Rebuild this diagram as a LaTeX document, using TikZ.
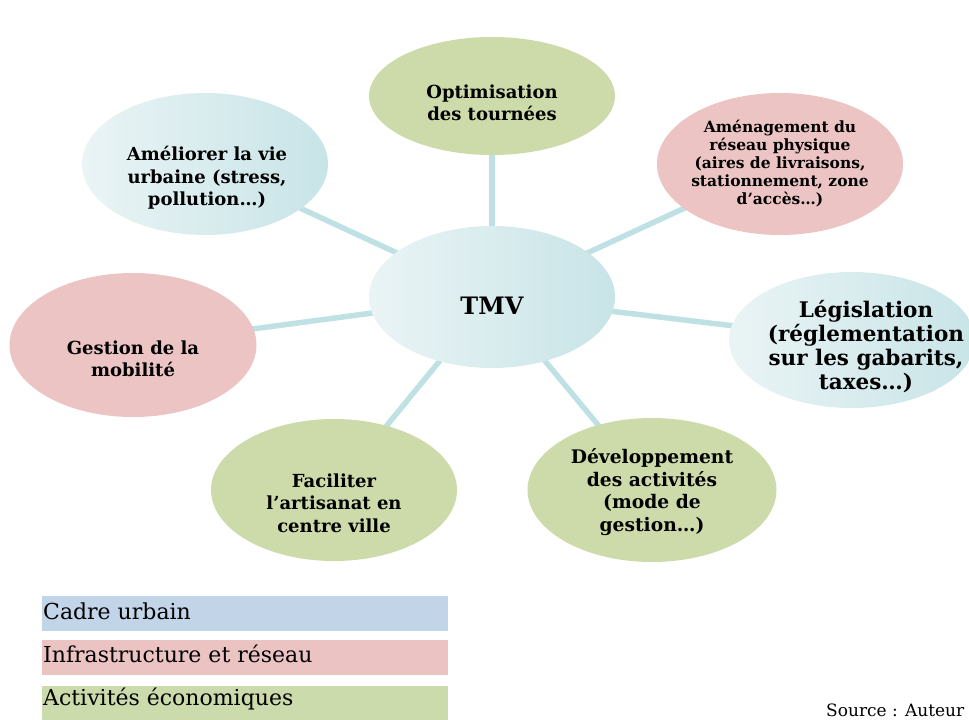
\documentclass[tikz,border=0pt]{standalone}
\usepackage{fontspec}
\setmainfont{DejaVu Serif}
\usetikzlibrary{shapes.geometric}
\definecolor{cgreen}{HTML}{CDDBAB}
\definecolor{cpink}{HTML}{EBC4C3}
\definecolor{cblueL}{HTML}{EAF4F5}
\definecolor{cblueR}{HTML}{C8E4E7}
\definecolor{cline}{HTML}{BFE1E4}
\definecolor{legblue}{HTML}{C2D4E8}
\definecolor{legpink}{HTML}{EBC3C3}
\definecolor{leggreen}{HTML}{CCDBAB}
\tikzset{
  blob/.style={ellipse, draw=none, inner sep=0pt, minimum width=246pt, minimum height=142pt},
  gblob/.style={blob, fill=cgreen},
  pblob/.style={blob, fill=cpink},
  bblob/.style={blob, left color=cblueL, right color=cblueR},
  lbl/.style={align=center, font=\fontsize{18}{22.5}\selectfont\bfseries, inner sep=0pt},
  link/.style={draw=cline, line width=5.5pt},
  legbox/.style={inner sep=0pt},
  legtxt/.style={anchor=base west, inner sep=0pt, font=\fontsize{22}{26}\selectfont}
}
\begin{document}
\begin{tikzpicture}[x=1pt, y=-1pt]
\useasboundingbox (0,0) rectangle (969,720);
% ellipse centres
\coordinate (cT) at (492,297);
\coordinate (cO) at (492,96);
\coordinate (cA) at (780,164);
\coordinate (cL) at (852,340);
\coordinate (cD) at (652,490);
\coordinate (cF) at (334,490);
\coordinate (cG) at (133,345);
\coordinate (cU) at (205,164);
% connectors (behind)
\draw[link] (cT) -- (cO);
\draw[link] (cT) -- (cA);
\draw[link] (cT) -- (cL);
\draw[link] (cT) -- (cD);
\draw[link] (cT) -- (cF);
\draw[link] (cT) -- (cG);
\draw[link] (cT) -- (cU);
% ellipses
\node[bblob] (T) at (cT) {};
\node[gblob, minimum height=118pt] (O) at (cO) {};
\node[pblob] (A) at (cA) {};
\node[bblob, minimum height=136pt] (L) at (cL) {};
\node[gblob, minimum width=249pt, minimum height=144pt] (D) at (cD) {};
\node[gblob] (F) at (cF) {};
\node[pblob, minimum width=247pt, minimum height=144pt] (G) at (cG) {};
\node[bblob] (U) at (cU) {};
% texts
\node[lbl, font=\fontsize{24}{28}\selectfont\bfseries] (tT) at (492,306) {TMV};
\node[lbl] (tO) at (492,103) {Optimisation\\des tournées};
\node[lbl, font=\fontsize{15.5}{18}\selectfont\bfseries] (tA) at (780,164) {Aménagement du\\réseau physique\\(aires de livraisons,\\stationnement, zone\\d’accès…)};
\node[lbl, font=\fontsize{21.5}{24}\selectfont\bfseries] (tL) at (866,347) {Législation\\(réglementation\\sur les gabarits,\\taxes…)};
\node[lbl, font=\fontsize{18.7}{22.5}\selectfont\bfseries] (tD) at (652,492) {Développement\\des activités\\(mode de\\gestion…)};
\node[lbl] (tF) at (334,503) {Faciliter\\l’artisanat en\\centre ville};
\node[lbl] (tG) at (133,359) {Gestion de la\\mobilité};
\node[lbl] (tU) at (207,178) {Améliorer la vie\\urbaine (stress,\\pollution…)};
% legend
\fill[legblue] (42,596) rectangle (448,631);
\fill[legpink] (42,640) rectangle (448,675);
\fill[leggreen] (42,686) rectangle (448,720);
\node[legtxt] (k1) at (43,619) {Cadre urbain};
\node[legtxt] (k2) at (43,662) {Infrastructure et réseau};
\node[legtxt] (k3) at (43,705) {Activités économiques};
\node[anchor=base west, inner sep=0pt, font=\fontsize{17}{20}\selectfont] (src) at (826,716) {Source : Auteur};
\end{tikzpicture}
\end{document}
